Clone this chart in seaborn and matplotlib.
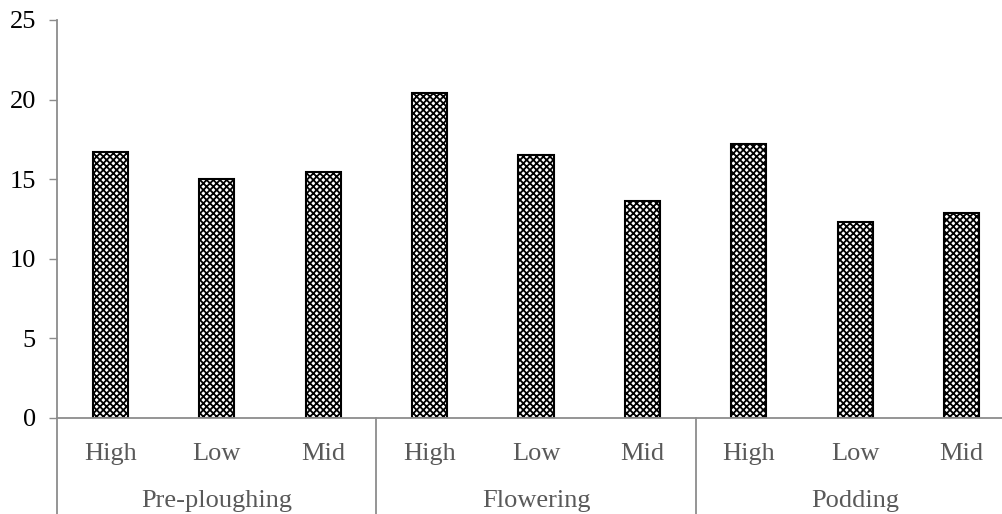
import numpy as np
import pandas as pd
import matplotlib
matplotlib.use("Agg")
import matplotlib.pyplot as plt
import seaborn as sns

# ── Data ──────────────────────────────────────────────────────────────────
stages = ["Pre-ploughing", "Flowering", "Podding"]
levels = ["High", "Low", "Mid"]
values = [
    [16.7, 15.0, 15.45],   # Pre-ploughing
    [20.4, 16.5, 13.6],    # Flowering
    [17.2, 12.3, 12.9],    # Podding
]
y_ticks = [0, 5, 10, 15, 20, 25]

rows = []
for s, vals in zip(stages, values):
    for lv, v in zip(levels, vals):
        rows.append({"stage": s, "level": lv, "slot": f"{s}|{lv}", "value": v})
df = pd.DataFrame(rows)

sns.set_style("white")
plt.rcParams["font.family"] = ["Liberation Serif", "DejaVu Serif"]
plt.rcParams["hatch.linewidth"] = 1.3

AXIS_GREY = "#8c8c8c"
TEXT_GREY = "#595959"

fig = plt.figure(figsize=(10.03, 5.14), dpi=100)
ax = fig.add_axes([57.3 / 1003, 96 / 514, 957.4 / 1003, 398 / 514])

sns.barplot(data=df, x="slot", y="value", ax=ax, width=0.33,
            color="white", edgecolor="black", linewidth=1.5,
            errorbar=None, saturation=1)
for p in ax.patches:
    p.set_hatch("xxxxx")

ax.set_xlim(-0.5, len(df) - 0.5)
ax.set_ylim(0, 25)
ax.set_yticks(y_ticks)
ax.set_yticklabels([str(t) for t in y_ticks], fontsize=19, color="black")
ax.set_xticks(range(len(df)))
ax.set_xticklabels(df["level"], fontsize=19, color=TEXT_GREY)
ax.set_xlabel("")
ax.set_ylabel("")

ax.tick_params(axis="y", length=5.5, width=1, color=AXIS_GREY, pad=10,
               left=True, direction="out")
ax.tick_params(axis="x", length=0, pad=18)

for side in ["top", "right"]:
    ax.spines[side].set_visible(False)
for side in ["left", "bottom"]:
    ax.spines[side].set_color(AXIS_GREY)
    ax.spines[side].set_linewidth(1.3)

# Multi-level category axis: separators and group labels
tr = ax.get_xaxis_transform()
for k in range(len(stages) + 1):
    xb = -0.5 + 3 * k
    ax.plot([xb, xb], [0, -0.26], transform=tr, color=AXIS_GREY,
            linewidth=1.3, clip_on=False)
for k, s in enumerate(stages):
    ax.text(3 * k + 1, -0.208, s, transform=tr, ha="center", va="center",
            fontsize=19, color=TEXT_GREY)

fig.savefig("out.png", dpi=100)
